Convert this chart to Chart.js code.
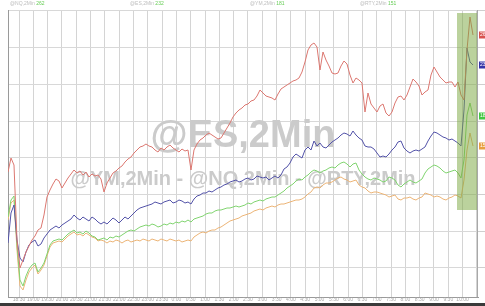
<!DOCTYPE html>
<html><head><meta charset="utf-8">
<style>html,body{margin:0;padding:0;background:#fff;overflow:hidden}#wrap{width:485px;height:306px;position:relative}</style>
<script src="https://cdn.jsdelivr.net/npm/chart.js@4.4.1/dist/chart.umd.min.js"></script>
</head><body><div id="wrap"><canvas id="c" width="485" height="306"></canvas></div>
<script>
// Series names (watermark text)
const watermarkMain = '@ES,2Min';
const watermarkSub = '@YM,2Min - @NQ,2Min - @RTY,2Min';
const seriesNames = ['@NQ,2Min', '@ES,2Min', '@YM,2Min', '@RTY,2Min'];

// Time axis labels (30-minute grid)
const xTickLabels = ['18:30','19:00','19:30','20:00','20:30','21:00','21:30','22:00','22:30','23:00','23:30','0:00','0:30','1:00','1:30','2:00','2:30','3:00','3:30','4:00','4:30','5:00','5:30','6:00','6:30','7:00','7:30','8:00','8:30','9:00','9:30','10:00','10:30'];
const yGridValues = [30, 66, 103, 140, 176, 213, 250, 287];

// Series values (relative performance, arbitrary units)
const redSeries = [125,139,132,57,29,37,45,51,57,61, 67,69,82,100,107,113,118,116,109,114, 119,123,127,124,126,122,125,120,123,121, 122,118,105,114,119,124,126,129,131,135, 138,140,144,147,150,151,153,151,150,147, 145,149,147,150,152,149,147,145,148,146, 147,127,147,153,157,159,162,164,162,160, 158,159,164,169,174,180,184,187,189,192, 193,196,197,201,207,204,201,200,199,197, 203,208,210,212,214,216,217,219,225,235, 247,252,254,250,227,245,237,231,224,223, 224,231,236,233,222,214,219,217,214,185, 204,193,189,185,191,193,184,181,185,194, 200,201,197,202,210,218,215,211,202,205, 207,222,230,225,220,217,214,215,215,210, 215,202,197,247,280,262];
const blueSeries = [54,84,92,57,39,35,45,52,55,57, 51,53,59,63,67,69,71,69,72,74, 76,78,82,79,77,80,78,76,80,78, 75,73,75,73,76,79,77,74,77,80, 78,81,84,87,89,90,91,92,93,95, 94,93,95,96,97,94,95,97,96,94, 95,93,98,101,102,104,104,106,105,107, 109,110,112,113,115,116,117,115,116,118, 119,117,118,121,120,119,120,117,119,121, 119,122,128,130,134,140,143,141,139,147, 150,147,156,151,154,150,149,152,155,157, 159,162,164,163,161,166,162,159,157,151, 150,150,148,144,140,141,140,143,147,150, 155,156,149,146,144,146,147,146,148,150, 156,161,165,164,162,160,159,157,158,156, 154,151,187,249,235,232];
const greenSeries = [80,97,101,52,17,11,21,28,32,34, 25,29,34,43,52,56,57,58,57,60, 63,65,67,64,65,63,66,64,61,60, 57,58,59,57,60,59,61,60,62,64, 66,67,66,68,70,71,72,71,73,72, 70,71,73,72,74,73,75,74,76,75, 77,75,78,79,80,81,83,84,84,86, 87,87,88,89,89,90,91,90,91,92, 94,93,95,96,97,96,98,99,100,100, 102,104,106,109,111,113,116,118,117,120, 122,125,127,126,124,126,127,129,130,129, 132,134,135,133,130,133,134,127,123,120, 118,117,119,118,117,115,116,120,119,117, 112,110,113,115,117,115,114,116,118,124, 128,130,132,131,129,126,124,125,126,127, 124,119,137,182,194,181];
const orangeSeries = [77,94,97,47,11,7,17,25,29,32, 23,27,32,41,50,54,55,56,55,58, 61,63,65,62,63,61,64,62,60,59, 56,57,56,54,56,55,57,56,54,56, 57,55,56,57,56,58,57,56,58,57, 56,58,57,56,58,57,56,57,55,56, 57,56,60,62,64,65,64,66,67,67, 69,70,72,74,76,77,78,79,81,82, 83,84,86,87,88,87,89,90,91,90, 92,93,93,94,95,96,97,97,98,100, 103,105,109,110,109,112,114,114,115,117, 119,120,118,117,115,116,117,112,110,109, 106,104,105,105,104,103,102,100,101,102, 98,97,99,99,100,98,97,99,100,104, 103,102,100,101,100,98,97,99,100,102, 101,99,117,147,164,151];

// Axis layout constants (index units)
const xMax = 156.67, tickStart = 3.67, tickStep = 4.77;
const highlight = {x0: 149.67, x1: 156.33, y0: 87, y1: 284};

const colors = ['#dc7770', '#5252a8', '#80d46f', '#ecb476'];
const boxColors = ['#d9534f', '#3535a8', '#44c844', '#e8a040'];
const allSeries = [redSeries, blueSeries, greenSeries, orangeSeries];

const datasets = allSeries.map((s, k) => ({
  label: seriesNames[k],
  data: s.map((v, i) => ({x: i, y: v})),
  borderColor: colors[k],
  borderWidth: 1,
  pointRadius: 0,
  tension: 0,
  fill: false
}));

const decor = {
  id: 'decor',
  beforeDatasetsDraw(chart) {
    const {ctx, chartArea: a} = chart;
    ctx.save();
    ctx.fillStyle = '#cbcbcb';
    ctx.textAlign = 'center';
    ctx.textBaseline = 'alphabetic';
    const cx = (a.left + a.right) / 2;
    ctx.font = 'bold 38px "Liberation Sans", Arial, sans-serif';
    ctx.fillText(watermarkMain, cx, 147);
    ctx.font = 'bold 20px "Liberation Sans", Arial, sans-serif';
    ctx.fillText(watermarkSub, cx, 185);
    ctx.restore();
  },
  afterDatasetsDraw(chart) {
    const {ctx, scales: {x, y}} = chart;
    const l = x.getPixelForValue(highlight.x0), r = x.getPixelForValue(highlight.x1);
    const t = y.getPixelForValue(highlight.y1), b = y.getPixelForValue(highlight.y0);
    ctx.save();
    ctx.fillStyle = 'rgba(120,165,60,0.5)';
    ctx.fillRect(l, t, r - l, b - t);
    ctx.restore();
  },
  afterDraw(chart) {
    const {ctx, chartArea: a, scales: {x, y}} = chart;
    ctx.save();
    // right border
    ctx.strokeStyle = '#a8a8a8';
    ctx.lineWidth = 1;
    ctx.beginPath();
    ctx.moveTo(Math.round(a.right) - 0.5, a.top);
    ctx.lineTo(Math.round(a.right) - 0.5, a.bottom);
    ctx.stroke();
    // small right ticks
    ctx.strokeStyle = '#cfcfcf';
    yGridValues.forEach(v => {
      const py = Math.round(y.getPixelForValue(v)) + 0.5;
      ctx.beginPath(); ctx.moveTo(a.right, py); ctx.lineTo(485, py); ctx.stroke();
    });
    // last value boxes
    ctx.font = '5px "Liberation Sans", Arial, sans-serif';
    ctx.textBaseline = 'middle';
    ctx.textAlign = 'left';
    allSeries.forEach((s, k) => {
      const last = s[s.length - 1];
      const py = y.getPixelForValue(last);
      ctx.fillStyle = boxColors[k];
      ctx.fillRect(a.right + 1, py - 3.5, 8, 7);
      ctx.fillStyle = '#ffffff';
      ctx.fillText(String(last), a.right + 2, py);
    });
    // x tick labels
    ctx.fillStyle = '#a8a8a8';
    ctx.textAlign = 'center';
    ctx.textBaseline = 'middle';
    ctx.font = '5px "Liberation Sans", Arial, sans-serif';
    xTickLabels.forEach((lab, k) => {
      const px = x.getPixelForValue(tickStart + k * tickStep);
      if (k < xTickLabels.length - 1) ctx.fillText(lab, px, 300);
    });
    // bottom band
    ctx.fillStyle = '#3a3a3a';
    ctx.fillRect(0, 303, 485, 3);
    // header
    ctx.textAlign = 'left';
    ctx.textBaseline = 'middle';
    ctx.font = '5px "Liberation Sans", Arial, sans-serif';
    const headerPos = [10, 130, 250, 360];
    allSeries.forEach((s, k) => {
      const px = headerPos[k];
      ctx.fillStyle = '#bdbdbd';
      ctx.fillText(seriesNames[k], px, 3.5);
      const w = ctx.measureText(seriesNames[k] + ' ').width;
      ctx.fillStyle = '#66cc55';
      ctx.fillText(String(s[s.length - 1]), px + w, 3.5);
    });
    ctx.restore();
  }
};

new Chart(document.getElementById('c'), {
  type: 'line',
  data: {datasets},
  options: {
    responsive: false,
    animation: false,
    devicePixelRatio: 1,
    layout: {padding: {left: 8, right: 7, top: 10, bottom: 9}},
    plugins: {legend: {display: false}, tooltip: {enabled: false}},
    scales: {
      x: {
        type: 'linear', min: 0, max: xMax,
        ticks: {display: false},
        grid: {color: '#d4d4d4', drawTicks: false},
        border: {display: true, color: '#9a9a9a'},
        afterBuildTicks(s) { s.ticks = xTickLabels.map((l, k) => ({value: tickStart + k * tickStep})); }
      },
      y: {
        type: 'linear', min: 0, max: 287,
        ticks: {display: false},
        grid: {color: '#d8d8d8', drawTicks: false},
        border: {display: true, color: '#9a9a9a'},
        afterBuildTicks(s) { s.ticks = yGridValues.map(v => ({value: v})); }
      }
    }
  },
  plugins: [decor]
});
</script></body></html>
